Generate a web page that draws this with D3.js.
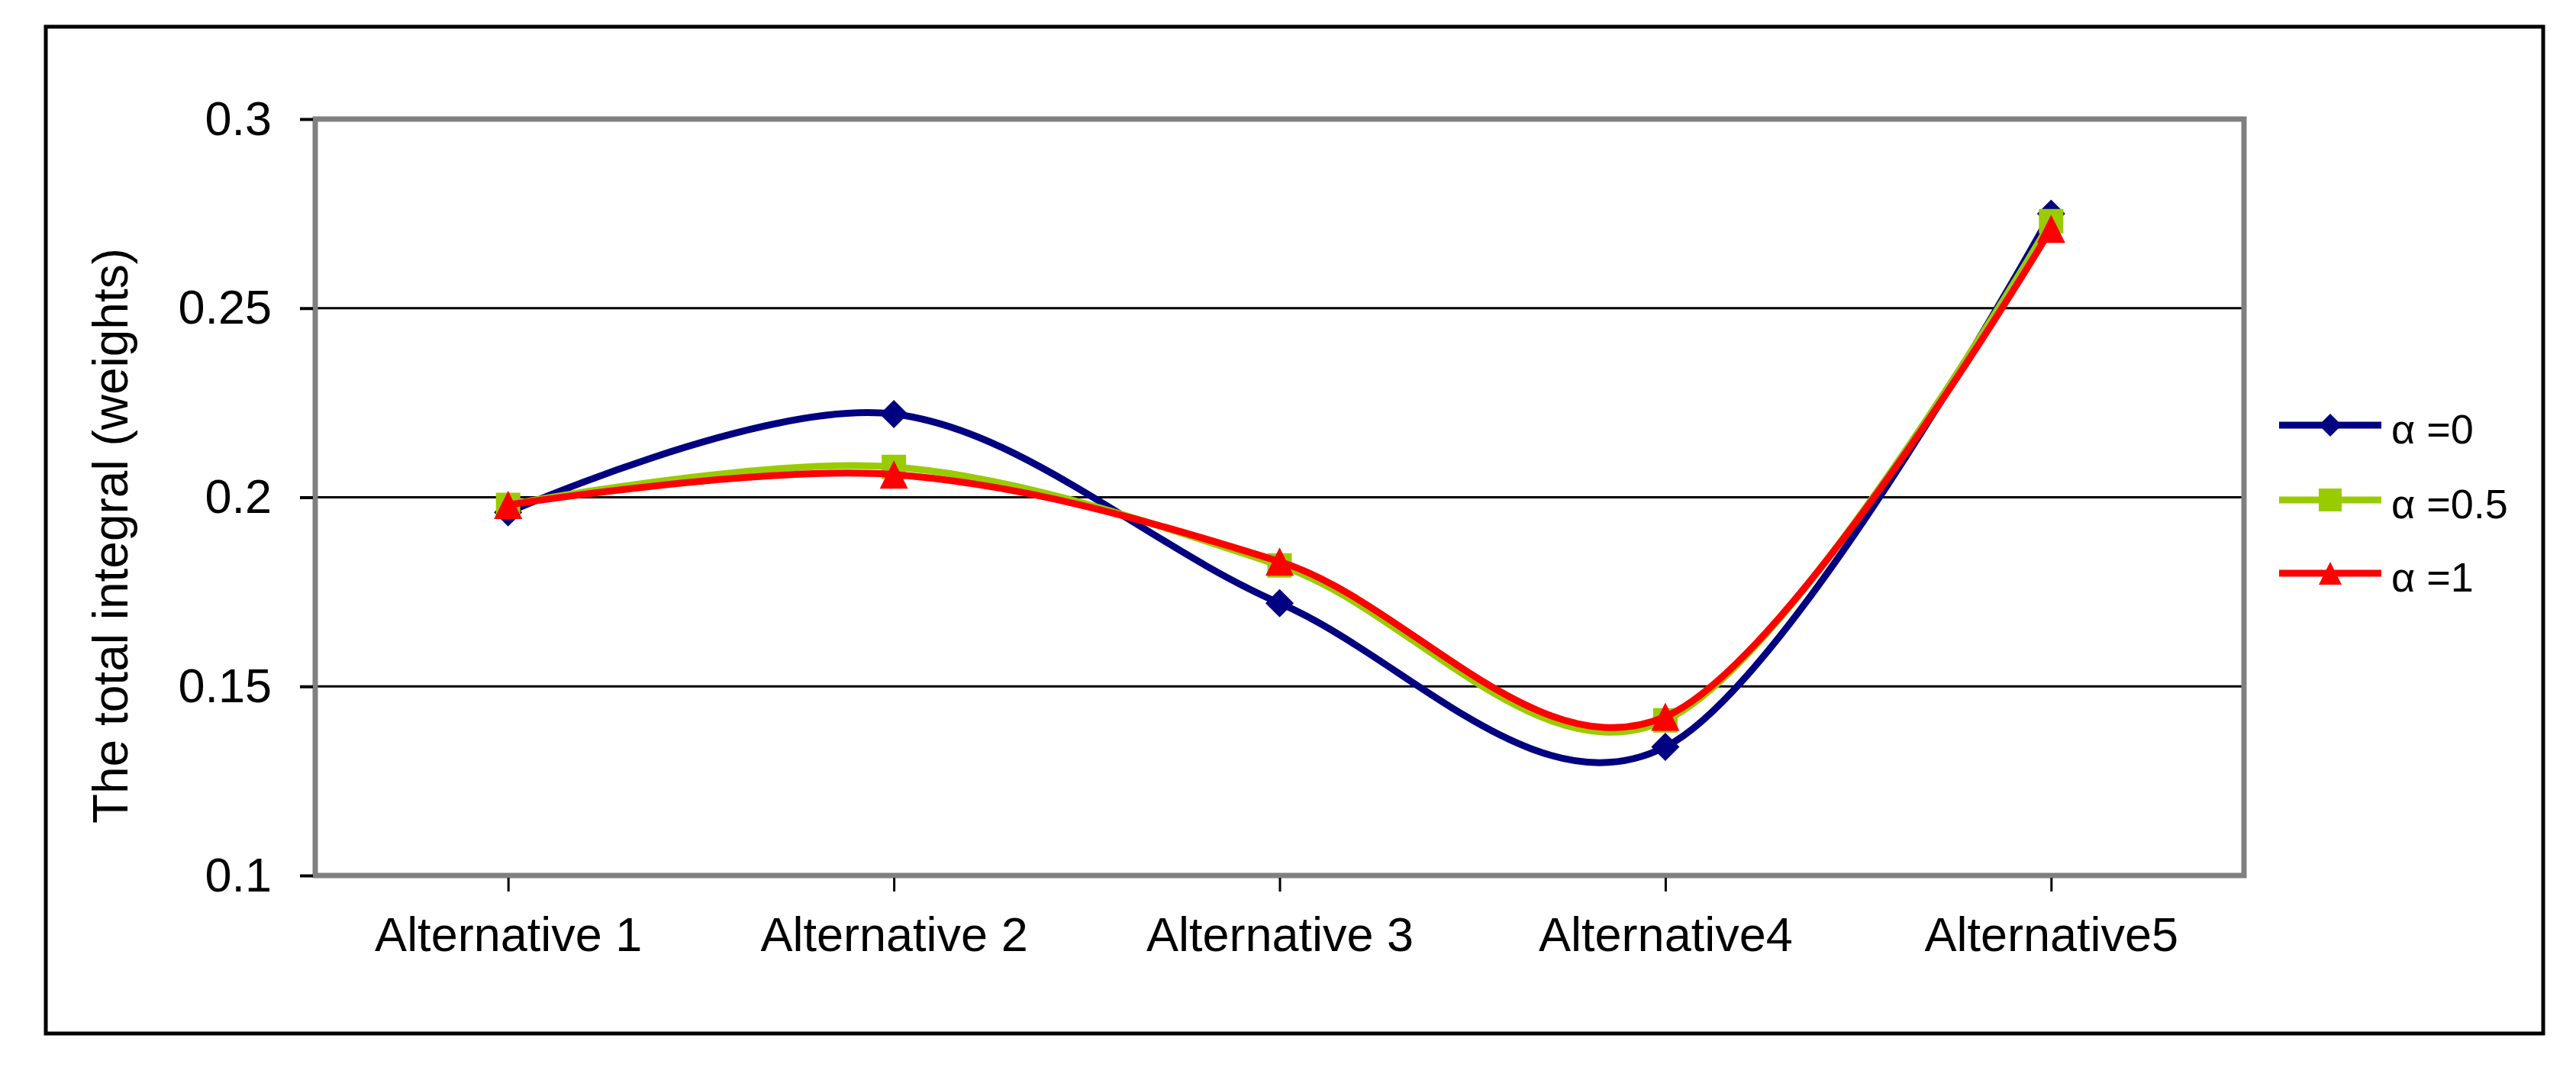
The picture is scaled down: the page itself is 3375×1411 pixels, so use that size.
<!DOCTYPE html>
<html>
<head>
<meta charset="utf-8">
<script src="https://cdn.jsdelivr.net/npm/d3@7"></script>
<style>
  html, body { margin: 0; padding: 0; background: #ffffff; }
  svg { display: block; }
  text { font-family: "Liberation Sans", Arial, Helvetica, sans-serif; fill: #000; }
</style>
</head>
<body>
<svg id="chart" width="3375" height="1411"></svg>
<script>
// ---------------- data ----------------
const categories = ["Alternative 1", "Alternative 2", "Alternative 3", "Alternative4", "Alternative5"];
const seriesNames = ["\u03b1 =0", "\u03b1 =0.5", "\u03b1 =1"];
const alpha0   = [0.196, 0.222, 0.172, 0.134, 0.275];
const alpha05  = [0.198, 0.208, 0.182, 0.141, 0.273];
const alpha1   = [0.198, 0.206, 0.183, 0.142, 0.271];
const yTicks = [0.1, 0.15, 0.2, 0.25, 0.3];
const yTickLabels = ["0.1", "0.15", "0.2", "0.25", "0.3"];
const yTitle = "The total integral (weights)";

// ---------------- layout ----------------
const W = 3375, H = 1411;
const plot = { left: 413, right: 2940, top: 156, bottom: 1147 };
const colors = ["#000080", "#99CC00", "#FF0000"];
const markerTypes = ["diamond", "square", "triangle"];

const svg = d3.select("#chart");
svg.append("rect").attr("width", W).attr("height", H).attr("fill", "#fff");

// outer border
svg.append("rect")
  .attr("x", 60).attr("y", 35).attr("width", 3272).attr("height", 1319)
  .attr("fill", "none").attr("stroke", "#000").attr("stroke-width", 5);

const x = d3.scalePoint().domain(categories).range([plot.left, plot.right]).padding(0.5);
const y = d3.scaleLinear().domain([0.1, 0.3]).range([plot.bottom, plot.top]);

// gridlines
svg.append("g").selectAll("line")
  .data(yTicks.filter(v => v > 0.1 && v < 0.3))
  .join("line")
  .attr("x1", plot.left).attr("x2", plot.right)
  .attr("y1", d => y(d)).attr("y2", d => y(d))
  .attr("stroke", "#000").attr("stroke-width", 3);

// plot frame (grey)
svg.append("rect")
  .attr("x", plot.left).attr("y", plot.top)
  .attr("width", plot.right - plot.left).attr("height", plot.bottom - plot.top)
  .attr("fill", "none").attr("stroke", "#808080").attr("stroke-width", 7);

// y axis
const yAxis = d3.axisLeft(y).tickValues(yTicks)
  .tickFormat((d, i) => yTickLabels[i]).tickSize(17).tickPadding(37);
const gy = svg.append("g").attr("transform", `translate(${plot.left - 3},0)`).call(yAxis);
gy.select(".domain").remove();
gy.selectAll(".tick line").attr("stroke", "#000").attr("stroke-width", 4);
gy.selectAll(".tick text").style("font-size", "63px").style("font-family", "'Liberation Sans', Arial, sans-serif").attr("fill", "#000");

// x axis
const xAxis = d3.axisBottom(x).tickSize(18).tickPadding(33);
const gx = svg.append("g").attr("transform", `translate(0,${plot.bottom + 3})`).call(xAxis);
gx.select(".domain").remove();
gx.selectAll(".tick line").attr("stroke", "#000").attr("stroke-width", 3);
gx.selectAll(".tick text").style("font-size", "63px").style("font-family", "'Liberation Sans', Arial, sans-serif").attr("fill", "#000");

// y title
svg.append("text")
  .attr("transform", `translate(167,702) rotate(-90)`)
  .attr("text-anchor", "middle")
  .style("font-size", "64px")
  .text(yTitle);

// marker symbol types
const diamondType = { draw(ctx, size) { const r = Math.sqrt(size) / 2; ctx.moveTo(0, -r); ctx.lineTo(r, 0); ctx.lineTo(0, r); ctx.lineTo(-r, 0); ctx.closePath(); } };
const squareType = { draw(ctx, size) { const r = Math.sqrt(size) / 2; ctx.moveTo(-r, -r); ctx.lineTo(r, -r); ctx.lineTo(r, r); ctx.lineTo(-r, r); ctx.closePath(); } };
const triangleType = { draw(ctx, size) { const r = Math.sqrt(size) / 2; ctx.moveTo(0, -r); ctx.lineTo(r, r); ctx.lineTo(-r, r); ctx.closePath(); } };
const symTypes = { diamond: diamondType, square: squareType, triangle: triangleType };

const allSeries = [alpha0, alpha05, alpha1];
const line = d3.line()
  .x((d, i) => x(categories[i]))
  .y(d => y(d))
  .curve(d3.curveCatmullRom.alpha(0));

const plotMarkerSize = { diamond: 37 * 37, square: 32 * 32, triangle: 37 * 37 };

allSeries.forEach((vals, si) => {
  const g = svg.append("g");
  g.append("path")
    .attr("d", line(vals))
    .attr("fill", "none")
    .attr("stroke", colors[si])
    .attr("stroke-width", 9)
    .attr("stroke-linejoin", "round");
  const t = markerTypes[si];
  g.selectAll("path.m")
    .data(vals)
    .join("path")
    .attr("class", "m")
    .attr("transform", (d, i) => `translate(${x(categories[i])},${y(d)})`)
    .attr("d", d3.symbol().type(symTypes[t]).size(plotMarkerSize[t]))
    .attr("fill", colors[si]);
});

// legend
const legendRows = [557, 655, 751];
const lg = svg.append("g");
seriesNames.forEach((name, i) => {
  const ry = legendRows[i];
  lg.append("line")
    .attr("x1", 2986).attr("x2", 3120).attr("y1", ry).attr("y2", ry)
    .attr("stroke", colors[i]).attr("stroke-width", 9);
  const t = markerTypes[i];
  lg.append("path")
    .attr("transform", `translate(3053,${ry})`)
    .attr("d", d3.symbol().type(symTypes[t]).size(30 * 30))
    .attr("fill", colors[i]);
  lg.append("text")
    .attr("x", 3133).attr("y", ry + 24)
    .style("font-size", "54px")
    .text(name);
});
</script>
</body>
</html>
